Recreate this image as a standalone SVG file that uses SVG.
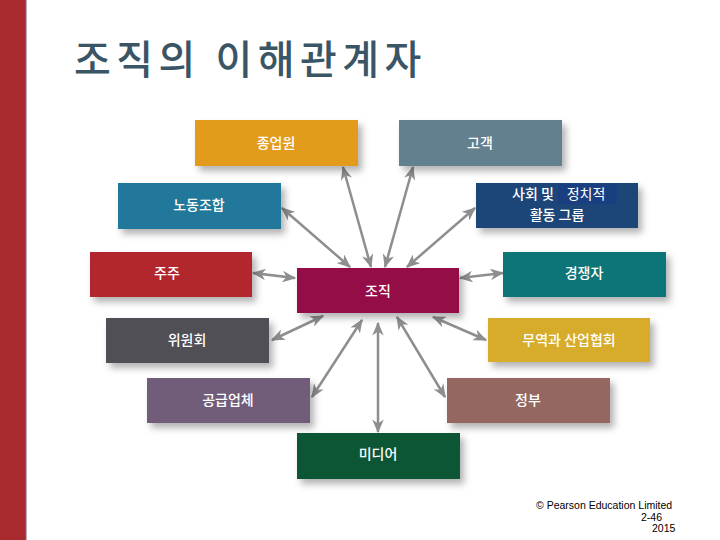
<svg xmlns="http://www.w3.org/2000/svg" width="720" height="540" viewBox="0 0 720 540">
<style>
.box text{fill:#fff;font-family:"Noto Sans CJK KR","Noto Sans",sans-serif;font-size:14px;font-weight:500;text-anchor:middle;dominant-baseline:central}
.box text.lt{font-weight:400}
.conn line{stroke:#8e8e8e;stroke-width:2.5;marker-start:url(#ah);marker-end:url(#ah)}
.ft{font-family:"Liberation Sans","DejaVu Sans",sans-serif;font-size:10.5px;fill:#000}
</style>
<defs>
<filter id="sh" x="-10%" y="-20%" width="130%" height="160%">
<feDropShadow dx="4" dy="5" stdDeviation="3.5" flood-color="#000" flood-opacity="0.3"/>
</filter>
<marker id="ah" viewBox="0 0 12 10" refX="11" refY="5" markerWidth="5.5" markerHeight="4.6" orient="auto-start-reverse" markerUnits="strokeWidth">
<path d="M0,0 L12,5 L0,10 L3.5,5 z" fill="#8e8e8e"/>
</marker>
</defs>
<rect width="720" height="540" fill="#fff"/>
<rect x="0" y="0" width="26" height="540" fill="#a8292e"/>
<rect x="25" y="0" width="1.5" height="540" fill="#6c5a78"/>
<text x="74" y="74" font-family="'Noto Sans CJK KR',sans-serif" font-size="40" font-weight="500" letter-spacing="5.5" fill="#3a5565">조직의 이해관계자</text>

<g class="conn">
<line x1="371" y1="267" x2="343" y2="167"/>
<line x1="385" y1="267" x2="413" y2="167"/>
<line x1="350" y1="267" x2="282" y2="208"/>
<line x1="407" y1="267" x2="475" y2="208"/>
<line x1="295" y1="278" x2="253" y2="273"/>
<line x1="460" y1="278" x2="503" y2="273"/>
<line x1="323" y1="316" x2="272" y2="340"/>
<line x1="362" y1="320" x2="312" y2="397"/>
<line x1="378" y1="323" x2="378" y2="432"/>
<line x1="433" y1="317" x2="486" y2="340"/>
<line x1="397" y1="317" x2="445" y2="397"/>
</g>

<g id="employees" class="box"><rect x="195" y="120" width="163" height="46" fill="#e39b1e" filter="url(#sh)"/><text x="276" y="142">종업원</text></g>
<g id="customers" class="box"><rect x="399" y="120" width="163" height="46" fill="#63808f" filter="url(#sh)"/><text x="480" y="142">고객</text></g>
<g id="unions" class="box"><rect x="118" y="183" width="163" height="46" fill="#23789b" filter="url(#sh)"/><text x="199" y="204">노동조합</text></g>
<g id="social" class="box"><rect x="476" y="183" width="162" height="45" fill="#1e4478" filter="url(#sh)"/><rect x="558" y="184" width="59" height="20" fill="#1a3f80"/><text x="533" y="193">사회 및</text><text class="lt" x="586" y="193">정치적</text><text x="557" y="214">활동 그룹</text></g>
<g id="shareholders" class="box"><rect x="90" y="252" width="162" height="45" fill="#b2272d" filter="url(#sh)"/><text x="167" y="272">주주</text></g>
<g id="org" class="box"><rect x="297" y="268" width="162" height="45" fill="#951046" filter="url(#sh)"/><text x="378" y="290">조직</text></g>
<g id="competitors" class="box"><rect x="503" y="252" width="163" height="45" fill="#0f7577" filter="url(#sh)"/><text x="584" y="272">경쟁자</text></g>
<g id="committee" class="box"><rect x="106" y="318" width="163" height="45" fill="#4f5054" filter="url(#sh)"/><text x="187" y="339">위원회</text></g>
<g id="trade" class="box"><rect x="488" y="318" width="162" height="44" fill="#d6ac2a" filter="url(#sh)"/><text x="569" y="339">무역과 산업협회</text></g>
<g id="suppliers" class="box"><rect x="147" y="378" width="163" height="45" fill="#715d7a" filter="url(#sh)"/><text x="228" y="399">공급업체</text></g>
<g id="government" class="box"><rect x="447" y="378" width="163" height="45" fill="#946760" filter="url(#sh)"/><text x="528" y="399">정부</text></g>
<g id="media" class="box"><rect x="297" y="433" width="163" height="46" fill="#0b5735" filter="url(#sh)"/><text x="378" y="453">미디어</text></g>

<text class="ft" x="536" y="509">© Pearson Education Limited</text>
<text class="ft" x="641" y="521">2-46</text>
<text class="ft" x="652" y="532">2015</text>
</svg>
